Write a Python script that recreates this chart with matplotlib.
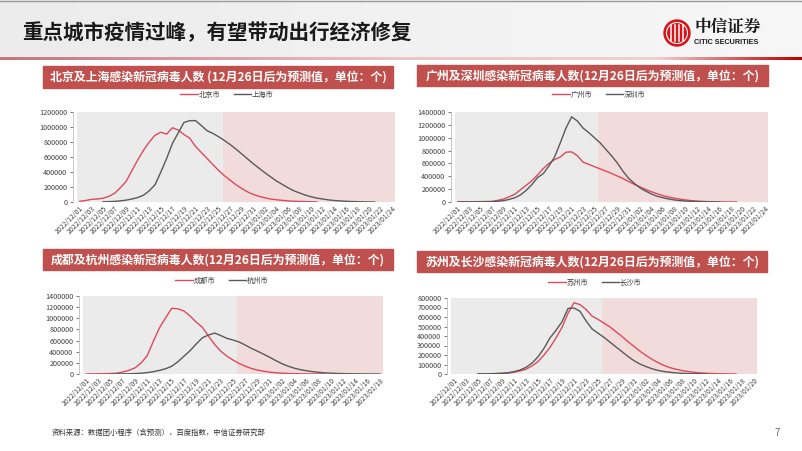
import matplotlib
matplotlib.use("Agg")
import matplotlib.pyplot as plt
import matplotlib.patches as mpatches
from matplotlib.colors import LinearSegmentedColormap
import numpy as np
import pandas as pd

plt.rcParams["font.family"] = ["Noto Sans CJK SC", "DejaVu Sans"]

nan = np.nan

# ---- data (daily from 2022/12/01) ----
beijing = [10000, 20000, 35000, 40000, 50000, 75000, 115000, 190000, 275000, 420000,
           560000, 690000, 800000, 890000, 930000, 905000, 990000, 960000, 900000, 850000,
           740000, 660000, 580000, 500000, 420000, 350000, 290000, 230000, 180000, 135000,
           100000, 75000, 55000, 40000, 30000, 22000, 15000, 10000, 7000, 5000,
           3000, 2000, nan, nan, nan, nan, nan, nan, nan, nan,
           nan, nan, nan, nan, nan]
shanghai = [nan, nan, nan, nan, 3000, 5000, 8000, 15000, 25000, 40000,
            60000, 90000, 150000, 230000, 400000, 580000, 780000, 920000, 1060000, 1085000,
            1085000, 1020000, 950000, 915000, 870000, 820000, 765000, 705000, 640000, 575000,
            510000, 450000, 390000, 335000, 280000, 235000, 190000, 150000, 120000, 92000,
            70000, 52000, 40000, 28000, 20000, 14000, 10000, 6000, 4000, 2000,
            1000, 500, nan, nan, nan]

guangzhou = [2000, 3000, 4000, 5000, 6000, 8000, 10000, 25000, 45000, 80000,
             120000, 190000, 260000, 330000, 420000, 520000, 600000, 660000, 700000, 775000,
             780000, 720000, 620000, 585000, 550000, 515000, 480000, 445000, 405000, 365000,
             320000, 275000, 235000, 195000, 160000, 130000, 100000, 78000, 60000, 45000,
             32000, 22000, 15000, 10000, 6000, 4000, 2000, 1000, 500, 0,
             nan, nan, nan, nan, nan]
shenzhen = [1000, 1000, 2000, 2000, 3000, 4000, 5000, 12000, 20000, 40000,
            65000, 110000, 180000, 270000, 380000, 440000, 560000, 700000, 920000, 1150000,
            1325000, 1260000, 1150000, 1080000, 1000000, 920000, 820000, 720000, 610000, 480000,
            370000, 290000, 220000, 170000, 125000, 90000, 68000, 48000, 33000, 22000,
            15000, 10000, 6000, 4000, 2000, 1000, 500, nan, nan, nan,
            nan, nan, nan, nan, nan]

chengdu = [0, 2000, 4000, 6000, 8000, 15000, 35000, 65000, 110000, 200000,
           330000, 590000, 830000, 1010000, 1180000, 1170000, 1130000, 1040000, 930000, 840000,
           680000, 530000, 410000, 320000, 250000, 190000, 140000, 100000, 70000, 50000,
           33000, 22000, 14000, 9000, 6000, 4000, 2500, 1500, 1000, 500,
           nan, nan, nan, nan, nan, nan, nan, nan, nan]
hangzhou = [nan, nan, nan, nan, 0, 1000, 2000, 4000, 8000, 14000,
            25000, 42000, 65000, 95000, 140000, 220000, 320000, 420000, 540000, 650000,
            700000, 735000, 690000, 640000, 610000, 575000, 520000, 460000, 410000, 355000,
            300000, 240000, 185000, 140000, 105000, 78000, 58000, 42000, 30000, 21000,
            15000, 10000, 7000, 4500, 3000, 2000, 1000, 500, 200]

suzhou = [nan, nan, nan, nan, 1000, 1500, 2000, 4000, 6000, 10000,
          18000, 32000, 50000, 85000, 130000, 200000, 280000, 380000, 490000, 640000,
          750000, 730000, 680000, 610000, 575000, 535000, 495000, 445000, 395000, 340000,
          290000, 240000, 195000, 155000, 120000, 90000, 67000, 50000, 36000, 26000,
          18000, 12000, 8000, 5000, 3000, 2000, 1000, 500, nan, nan,
          nan]
changsha = [nan, nan, nan, nan, 1000, 2000, 3000, 5000, 8000, 13000,
            25000, 42000, 70000, 115000, 180000, 270000, 380000, 460000, 550000, 690000,
            695000, 660000, 560000, 475000, 430000, 385000, 335000, 285000, 235000, 185000,
            140000, 105000, 78000, 55000, 38000, 26000, 18000, 12000, 7000, 4500,
            3000, 2000, 1000, nan, nan, nan, nan, nan, nan, nan,
            nan]

panels = [
    ("北京及上海感染新冠病毒人数 (12月26日后为预测值，单位：个)", "北京市", beijing, "上海市", shanghai, 1200000, 200000),
    ("广州及深圳感染新冠病毒人数(12月26日后为预测值，单位：个)", "广州市", guangzhou, "深圳市", shenzhen, 1400000, 200000),
    ("成都及杭州感染新冠病毒人数(12月26日后为预测值，单位：个)", "成都市", chengdu, "杭州市", hangzhou, 1400000, 200000),
    ("苏州及长沙感染新冠病毒人数(12月26日后为预测值，单位：个)", "苏州市", suzhou, "长沙市", changsha, 800000, 100000),
]

# ---- layout in pixels (x0, y0, x1, y1) ----
W, H = 802, 451
bar_boxes = [(43, 66, 393, 88), (417, 65, 768, 86), (43, 249, 393, 270), (417, 251, 767, 272)]
ax_boxes = [(77, 112, 395, 202), (455, 112, 768, 202), (83, 296, 383, 374), (451, 298, 757, 374)]
legend_y = [95, 95, 281, 283]
legend_x = [227, 599, 222, 595]

RED = "#dc4a5c"
DARK = "#595959"
BAR = "#c0504d"
GREY_BG = "#ebebeb"
PINK_BG = "#f2dcdb"

fig = plt.figure(figsize=(W / 100, H / 100), dpi=100)

bg = fig.add_axes([0, 0, 1, 1], zorder=0)
bg.set_xlim(0, W)
bg.set_ylim(H, 0)
bg.axis("off")

# header
grad = np.linspace(0, 1, 256).reshape(1, -1)
bg.imshow(grad, extent=(0, W, 57, 0), aspect="auto",
          cmap=LinearSegmentedColormap.from_list("hdr", ["#ececec", "#f7f7f7"]), zorder=0)
bg.plot([0, W], [0.5, 0.5], color="#9a9a9a", lw=1)
bg.imshow(grad, extent=(0, W, 60, 57.5), aspect="auto",
          cmap=LinearSegmentedColormap.from_list(
              "line", [(0, "#c8737d"), (0.5, "#edc4c9"), (0.82, "#f0d0d3"), (1, "#c00000")]),
          zorder=1)
bg.text(22, 33, "重点城市疫情过峰，有望带动出行经济修复", fontsize=14.8, fontweight="bold",
        color="#1a1a1a", va="center", ha="left")

# logo
bg.add_patch(mpatches.Circle((677, 33), 13, color="#d7141a", zorder=2))
bg.add_patch(mpatches.Circle((677, 33), 10.5, fill=False, ec="white", lw=0.8, zorder=3))
for dx in (-6, -2, 2, 6):
    bg.plot([677 + dx, 677 + dx], [25, 41], color="white", lw=1.1, zorder=3)
bg.text(694, 27, "中信证券", fontsize=12, fontweight="bold", color="#1a1a1a",
        va="center", ha="left", family=["Noto Serif CJK SC", "Noto Sans CJK SC"])
bg.text(694, 43, "CITIC SECURITIES", fontsize=5.2, fontweight="bold", color="#1a1a1a",
        va="center", ha="left", family="Liberation Sans")

# footer
bg.text(52, 433, "资料来源：数据团小程序（含预测），百度指数，中信证券研究部", fontsize=5.3,
        color="#333333", va="center", ha="left")
bg.text(777, 433, "7", fontsize=7, color="#666666", va="center", ha="center")

for k, (title, n1, s1, n2, s2, ymax, ystep) in enumerate(panels):
    bx0, by0, bx1, by1 = bar_boxes[k]
    bg.add_patch(mpatches.Rectangle((bx0, by0), bx1 - bx0, by1 - by0, color=BAR, zorder=1))
    bg.text((bx0 + bx1) / 2, (by0 + by1) / 2 + 0.5, title, fontsize=8.6, fontweight="bold",
            color="white", ha="center", va="center", zorder=2)

    x0, y0, x1, y1 = ax_boxes[k]
    ax = fig.add_axes([x0 / W, 1 - y1 / H, (x1 - x0) / W, (y1 - y0) / H], zorder=2)
    n = len(s1)
    idx = np.arange(n)
    dates = pd.date_range("2022-12-01", periods=n, freq="D")

    ax.axvspan(-0.5, 24.7, color=GREY_BG, lw=0, zorder=0)
    ax.axvspan(24.7, n - 0.5, color=PINK_BG, lw=0, zorder=0)
    l1, = ax.plot(idx, s1, color=RED, lw=1.0, label=n1, zorder=3)
    l2, = ax.plot(idx, s2, color=DARK, lw=1.0, label=n2, zorder=3)

    ax.set_xlim(-0.5, n - 0.5)
    ax.set_ylim(0, ymax)
    ax.set_yticks(np.arange(0, ymax + 1, ystep))
    ax.set_yticklabels([f"{int(v)}" for v in np.arange(0, ymax + 1, ystep)])
    ticks = idx[::2]
    ax.set_xticks(ticks)
    ax.set_xticklabels([dates[i].strftime("%Y/%m/%d") for i in ticks], rotation=45,
                       ha="right", rotation_mode="anchor")
    ax.tick_params(axis="x", length=0, labelsize=4.9, pad=2, colors="#404040")
    ax.tick_params(axis="y", length=2, width=0.5, labelsize=5.2, pad=2, colors="#404040")
    for side in ("top", "right", "bottom"):
        ax.spines[side].set_visible(False)
    ax.spines["left"].set_color("#bfbfbf")
    ax.spines["left"].set_linewidth(0.6)
    ax.spines["left"].set_position(("outward", 3))

    fig.legend(handles=[l1, l2], loc="center", bbox_to_anchor=(legend_x[k] / W, 1 - legend_y[k] / H),
               ncol=2, frameon=False, fontsize=5.2, handlelength=2.4, handletextpad=0.15,
               columnspacing=1.8, labelcolor="#404040")

fig.savefig("out.png", dpi=100)
